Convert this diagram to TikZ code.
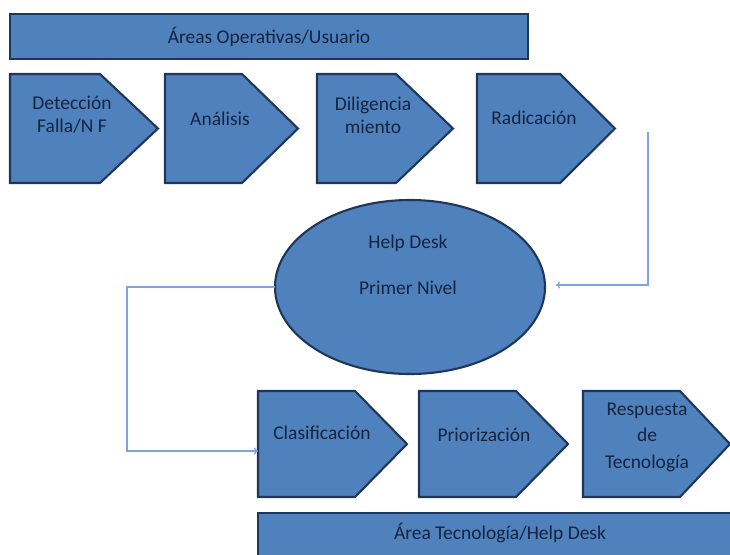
\documentclass[tikz,border=0pt]{standalone}
\usepackage{fontspec}
\setmainfont{Carlito}
\usetikzlibrary{shapes.symbols,shapes.geometric,arrows.meta}
\definecolor{boxfill}{HTML}{4F81BD}
\definecolor{boxedge}{HTML}{1E365A}
\definecolor{boxtext}{HTML}{15243F}
\definecolor{flow}{HTML}{7FA4DA}

\begin{document}
\begin{tikzpicture}[x=1pt,y=-1pt,
  band/.style={draw=boxedge, fill=boxfill, line width=2.1pt, inner sep=0pt, outer sep=0pt},
  stage/.style={signal, signal to=east, draw=boxedge, fill=boxfill, line width=2.1pt,
    inner sep=0pt, outer sep=0pt, anchor=west},
  lbl/.style={text=boxtext, font=\fontsize{19.5}{23}\selectfont, align=center, inner sep=0pt},
  flowline/.style={draw=flow, line width=1.3pt, -{To[length=4pt,width=7pt]}}]
\useasboundingbox (0,0) rectangle (730,554);
\clip (0,0) rectangle (730,554);

% user side band and its four stages
\node[band, minimum width=518pt, minimum height=45pt, anchor=north west] (areas) at (10,14) {};
\node[lbl] (areasT) at (269,36.5) {Áreas Operativas/Usuario};

\node[stage, minimum width=148pt, minimum height=109pt, signal pointer angle=86.4] (det) at (10,128.5) {};
\node[stage, minimum width=133pt, minimum height=109pt, signal pointer angle=88.4] (ana) at (165,128.5) {};
\node[stage, minimum width=136pt, minimum height=109pt, signal pointer angle=87.4] (dil) at (317,128.5) {};
\node[stage, minimum width=138pt, minimum height=109pt, signal pointer angle=89.5] (rad) at (477,128.5) {};

\node[lbl] (detT) at (72,114.5) {Detección\\Falla/N F};
\node[lbl] (anaT) at (220,119) {Análisis};
\node[lbl] (dilT) at (373,115.5) {Diligencia\\miento};
\node[lbl] (radT) at (534,118) {Radicación};

% first level help desk
\node[ellipse, band, minimum width=270pt, minimum height=174pt] (hd) at (410,287) {};
\node[lbl] (hdT1) at (408,243) {Help Desk};
\node[lbl] (hdT2) at (408,288) {Primer Nivel};

% technology side stages and band
\node[stage, minimum width=149pt, minimum height=106pt, signal pointer angle=91.1] (clas) at (258,444) {};
\node[stage, minimum width=149pt, minimum height=106pt, signal pointer angle=91.1] (prio) at (419,444) {};
\node[stage, minimum width=147pt, minimum height=106pt, signal pointer angle=93.3] (resp) at (583,444) {};

\node[lbl] (clasT) at (322,433) {Clasificación};
\node[lbl] (prioT) at (484,435) {Priorización};
\node[lbl, font=\fontsize{19.5}{26.5}\selectfont] (respT) at (647,437) {Respuesta\\de\\Tecnología};

\node[band, minimum width=490pt, minimum height=52pt, anchor=north west] (tech) at (258,513) {};
\node[lbl] (techT) at (500,533) {Área Tecnología/Help Desk};

% flow connectors
\coordinate (radout) at (648,132);
\coordinate (hdin) at (556,285);
\draw[flowline] (radout) |- (hdin);
\coordinate (loop) at (127,287);
\coordinate (clasin) at ([yshift=-7pt]clas.west);
\draw[flowline] (hd.west) -- (loop) |- (clasin);
\end{tikzpicture}
\end{document}
